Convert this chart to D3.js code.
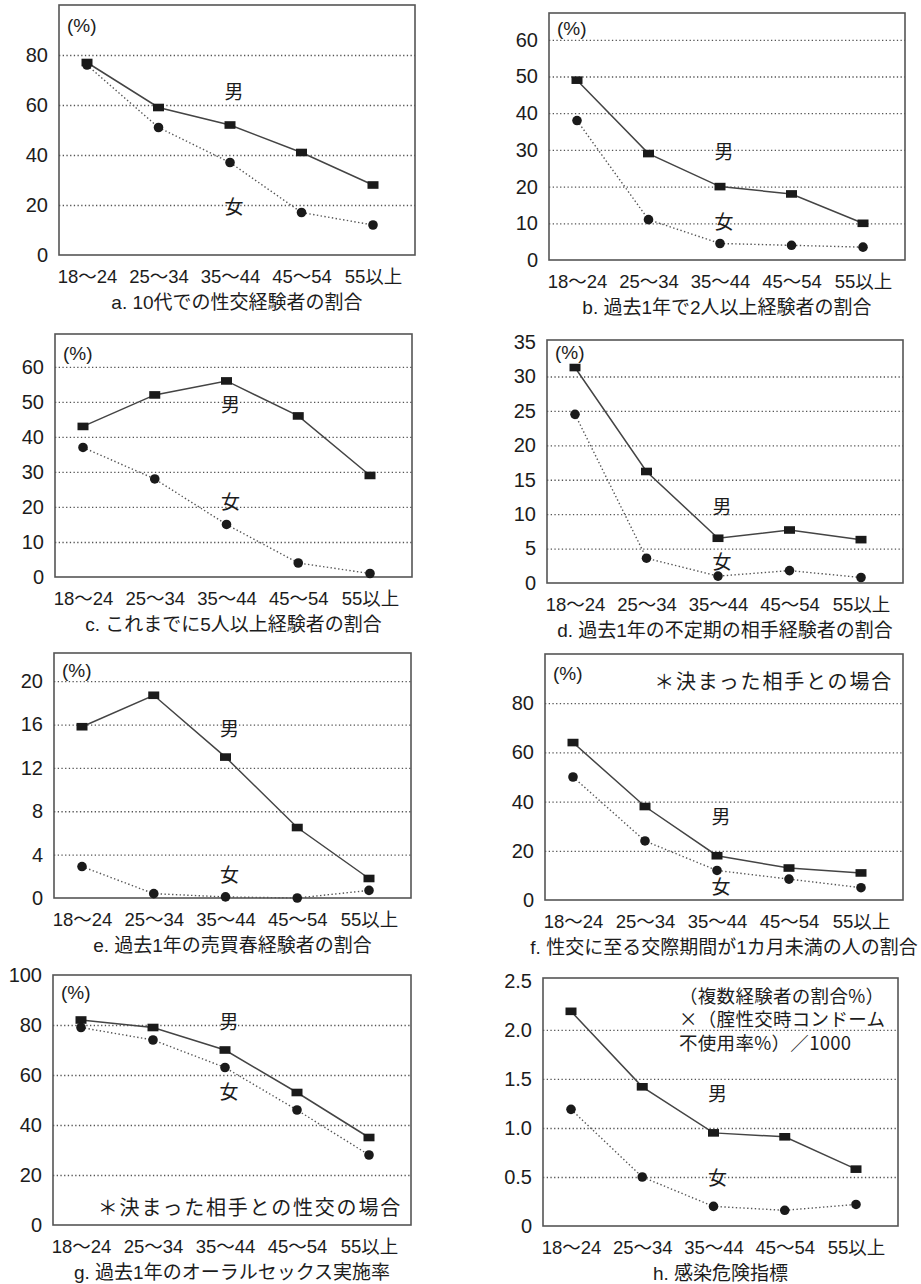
<!DOCTYPE html>
<html>
<head>
<meta charset="utf-8">
<script src="https://cdn.jsdelivr.net/npm/d3@7"></script>
<style>
  body { margin: 0; background: #fff; }
  text { font-family: "Liberation Sans", "Noto Sans CJK JP", sans-serif; fill: #1c1c1c; }
  .cjk { font-family: "Noto Sans CJK JP", sans-serif; }
</style>
</head>
<body>
<svg id="chart" width="921" height="1284"></svg>
<script>
// Age groups shared by every panel
const ageGroups = ["18～24", "25～34", "35～44", "45～54", "55以上"];

// a. 10代での性交経験者の割合 (%)
const maleA = [77, 59, 52, 41, 28];
const femaleA = [76, 51, 37, 17, 12];
const ticksA = [0, 20, 40, 60, 80];

// b. 過去1年で2人以上経験者の割合 (%)
const maleB = [49, 29, 20, 18, 10];
const femaleB = [38, 11, 4.5, 4, 3.5];
const ticksB = [0, 10, 20, 30, 40, 50, 60];

// c. これまでに5人以上経験者の割合 (%)
const maleC = [43, 52, 56, 46, 29];
const femaleC = [37, 28, 15, 4, 1];
const ticksC = [0, 10, 20, 30, 40, 50, 60];

// d. 過去1年の不定期の相手経験者の割合 (%)
const maleD = [31.3, 16.2, 6.5, 7.7, 6.3];
const femaleD = [24.5, 3.6, 1.0, 1.8, 0.8];
const ticksD = [0, 5, 10, 15, 20, 25, 30, 35];

// e. 過去1年の売買春経験者の割合 (%)
const maleE = [15.8, 18.7, 13.0, 6.5, 1.8];
const femaleE = [2.9, 0.4, 0.1, 0, 0.7];
const ticksE = [0, 4, 8, 12, 16, 20];

// f. 性交に至る交際期間が1カ月未満の人の割合 (%)
const maleF = [64, 38, 18, 13, 11];
const femaleF = [50, 24, 12, 8.5, 5];
const ticksF = [0, 20, 40, 60, 80];

// g. 過去1年のオーラルセックス実施率 (%)
const maleG = [82, 79, 70, 53, 35];
const femaleG = [79, 74, 63, 46, 28];
const ticksG = [0, 20, 40, 60, 80, 100];

// h. 感染危険指標
const maleH = [2.19, 1.42, 0.95, 0.91, 0.58];
const femaleH = [1.19, 0.5, 0.2, 0.16, 0.22];
const ticksH = [0, 0.5, 1.0, 1.5, 2.0, 2.5];

const titles = [
  "a. 10代での性交経験者の割合",
  "b. 過去1年で2人以上経験者の割合",
  "c. これまでに5人以上経験者の割合",
  "d. 過去1年の不定期の相手経験者の割合",
  "e. 過去1年の売買春経験者の割合",
  "f. 性交に至る交際期間が1カ月未満の人の割合",
  "g. 過去1年のオーラルセックス実施率",
  "h. 感染危険指標"
];

const seriesNames = ["男", "女"];
const noteF = ["＊決まった相手との場合"];
const noteG = ["＊決まった相手との性交の場合"];
const noteH = ["（複数経験者の割合%）", "×（腟性交時コンドーム", "不使用率%）／1000"];

// Panel layout: plot frame [left, top, right, bottom], value at frame top,
// where the 男/女 labels sit (in data units) and any annotation.
const panels = [
  { title: titles[0], male: maleA, female: femaleA, ticks: ticksA, yMax: 100,
    frame: [59, 5, 415, 255], labelV: [65, 19], pctDy: 20 },
  { title: titles[1], male: maleB, female: femaleB, ticks: ticksB, yMax: 67.3,
    frame: [549, 13, 905, 260], labelV: [29.4, 10.4], pctDy: 15 },
  { title: titles[2], male: maleC, female: femaleC, ticks: ticksC, yMax: 69.4,
    frame: [55, 334, 412, 577], labelV: [49, 21.4], pctDy: 19 },
  { title: titles[3], male: maleD, female: femaleD, ticks: ticksD, yMax: 35.3,
    frame: [547, 340, 903, 583], labelV: [11, 3.1], pctDy: 12 },
  { title: titles[4], male: maleE, female: femaleE, ticks: ticksE, yMax: 22.6,
    frame: [54, 653, 411, 898], labelV: [15.6, 2.1], pctDy: 17 },
  { title: titles[5], male: maleF, female: femaleF, ticks: ticksF, yMax: 100,
    frame: [545, 654, 903, 900], labelV: [33.5, 5.3], pctDy: 19,
    note: { lines: noteF, dx: -10, dy: 28, from: "right", anchor: "end", size: 20, spacing: 1.8 } },
  { title: titles[6], male: maleG, female: femaleG, ticks: ticksG, yMax: 100,
    frame: [53, 975, 411, 1225], labelV: [81, 53], pctDy: 17,
    note: { lines: noteG, dx: -9, dy: 233, from: "right", anchor: "end", size: 20, spacing: 1.8 } },
  { title: titles[7], male: maleH, female: femaleH, ticks: ticksH, yMax: 2.53,
    frame: [543, 978, 898, 1226], labelV: [1.34, 0.49], pctDy: null,
    fmt: d => d === 0 ? "0" : d.toFixed(1),
    note: { lines: noteH, dx: 136, dy: 18, from: "left", anchor: "start", size: 18.5, spacing: 0.3, lineStep: 23.5 } }
];

const svg = d3.select("#chart");

panels.forEach(p => {
  const [L, T, R, B] = p.frame;
  const g = svg.append("g");

  const x = d3.scalePoint().domain(ageGroups).range([L + 28, R - 42]);
  const y = d3.scaleLinear().domain([0, p.yMax]).range([B, T]);

  // dotted horizontal grid
  const gridTicks = p.ticks.filter(t => t > 0 && y(t) > T + 6);
  g.append("g")
    .attr("transform", `translate(${L},0)`)
    .call(d3.axisRight(y).tickValues(gridTicks).tickSize(R - L).tickFormat(""))
    .call(s => s.select(".domain").remove())
    .call(s => s.selectAll("line")
      .attr("stroke", "#555")
      .attr("stroke-width", 1.3)
      .attr("stroke-dasharray", "1.3,2.4"));

  // frame
  g.append("rect")
    .attr("x", L).attr("y", T)
    .attr("width", R - L).attr("height", B - T)
    .attr("fill", "none")
    .attr("stroke", "#555")
    .attr("stroke-width", 1.6);

  // y tick labels
  g.append("g")
    .attr("transform", `translate(${L},0)`)
    .call(d3.axisLeft(y).tickValues(p.ticks).tickSize(0).tickPadding(11)
      .tickFormat(p.fmt || (d => d)))
    .call(s => s.select(".domain").remove())
    .call(s => s.selectAll("text").attr("font-size", 20).attr("fill", "#1c1c1c")
      .style("font-family", '"Liberation Sans", sans-serif'));

  // x tick labels
  g.append("g")
    .attr("transform", `translate(0,${B})`)
    .call(d3.axisBottom(x).tickSize(0).tickPadding(15))
    .call(s => s.select(".domain").remove())
    .call(s => s.selectAll("text").attr("font-size", 18.5).attr("fill", "#1c1c1c")
      .style("font-family", '"Liberation Sans", "Noto Sans CJK JP", sans-serif'));

  // title under the axis
  g.append("text")
    .attr("x", (L + R) / 2).attr("y", B + 54)
    .attr("text-anchor", "middle")
    .attr("font-size", 19)
    .text(p.title);

  // unit label
  if (p.pctDy !== null) {
    g.append("text")
      .attr("x", L + 8).attr("y", T + p.pctDy)
      .attr("dy", "0.35em")
      .attr("font-size", 19)
      .text("(%)");
  }

  const line = d3.line()
    .x((d, i) => x(ageGroups[i]))
    .y(d => y(d));

  // female: dotted line with round markers
  g.append("path")
    .datum(p.female)
    .attr("d", line)
    .attr("fill", "none")
    .attr("stroke", "#555")
    .attr("stroke-width", 1.4)
    .attr("stroke-dasharray", "1.4,2.4");

  // male: solid line with square markers
  g.append("path")
    .datum(p.male)
    .attr("d", line)
    .attr("fill", "none")
    .attr("stroke", "#444")
    .attr("stroke-width", 1.5);

  g.selectAll(".m")
    .data(p.male)
    .join("rect")
    .attr("x", (d, i) => x(ageGroups[i]) - 5.5)
    .attr("y", d => y(d) - 3.8)
    .attr("width", 11).attr("height", 7.6)
    .attr("fill", "#1a1a1a");

  g.selectAll(".f")
    .data(p.female)
    .join("circle")
    .attr("cx", (d, i) => x(ageGroups[i]))
    .attr("cy", d => y(d))
    .attr("r", 4.8)
    .attr("fill", "#1a1a1a");

  // series labels
  [p.male, p.female].forEach((s, k) => {
    g.append("text")
      .attr("class", "cjk")
      .attr("x", x(ageGroups[2]) + 4)
      .attr("y", y(p.labelV[k]))
      .attr("dy", "0.36em")
      .attr("text-anchor", "middle")
      .attr("font-size", 19)
      .text(seriesNames[k]);
  });

  // annotation (multi-line notes go into one text element)
  if (p.note) {
    const n = p.note;
    const nx = (n.from === "right" ? R : L) + n.dx;
    const t = g.append("text")
      .attr("class", "cjk")
      .attr("text-anchor", n.anchor)
      .attr("font-size", n.size)
      .attr("letter-spacing", n.spacing);
    n.lines.forEach((s, k) => {
      t.append("tspan")
        .attr("x", nx)
        .attr("y", T + n.dy + k * (n.lineStep || 0))
        .attr("dy", "0.36em")
        .text(s);
    });
  }
});
</script>
</body>
</html>
